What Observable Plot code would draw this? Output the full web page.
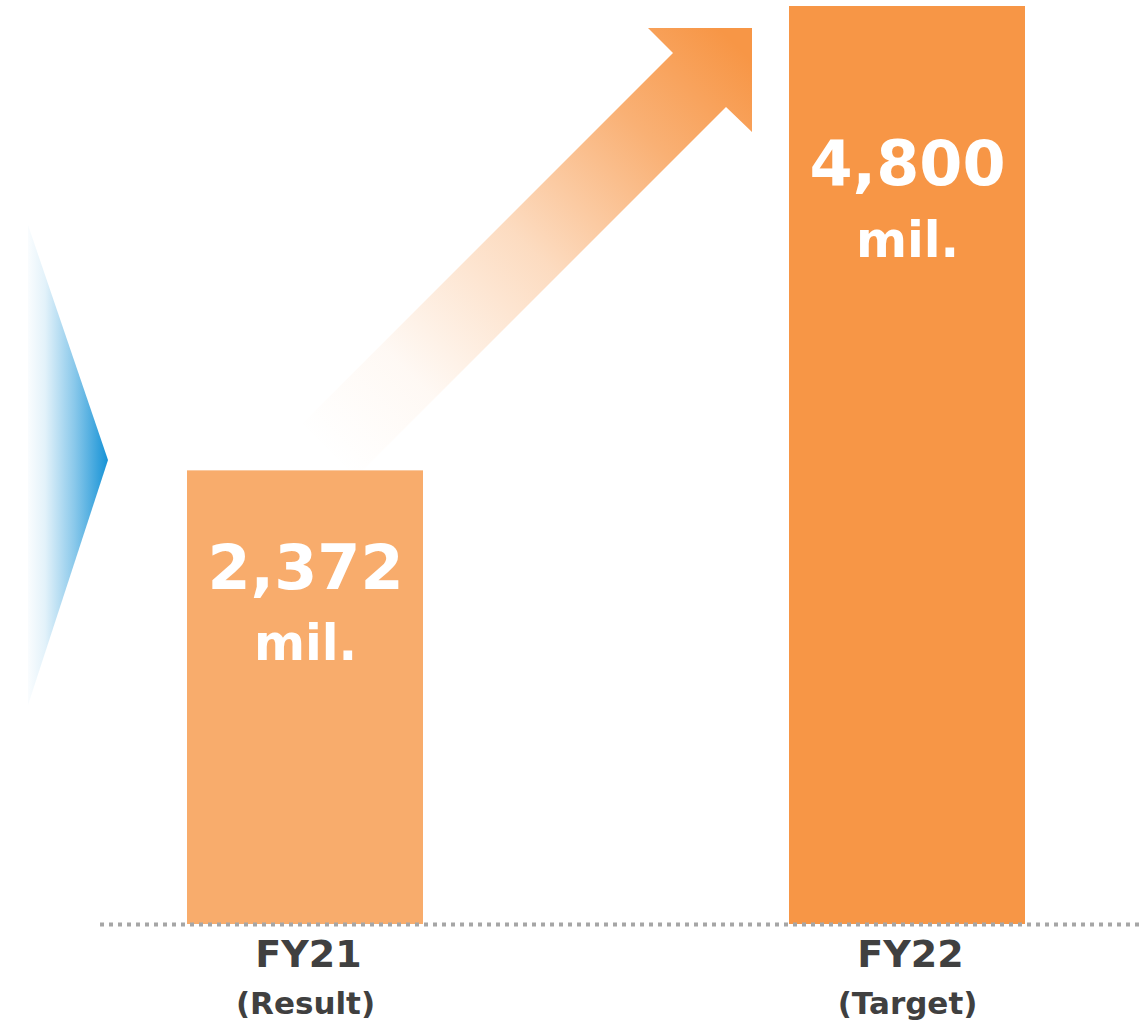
<!DOCTYPE html>
<html><head><meta charset="utf-8">
<script src="https://cdn.jsdelivr.net/npm/d3@7"></script>
<script src="https://cdn.jsdelivr.net/npm/@observablehq/plot@0.6"></script>
<style>html,body{margin:0;padding:0;background:#fff;} #chart svg{display:block}</style>
</head><body><div id="chart"></div>
<script>
const categories = ["FY21", "FY22"];
const subLabels = ["(Result)", "(Target)"];
const values = [2372, 4800];
const unitLabel = "mil.";

const data = categories.map((c, i) => ({
  category: c, sub: subLabels[i], value: values[i], label: d3.format(",")(values[i]), unit: unitLabel
}));

const FONT = "'DejaVu Sans', Verdana, sans-serif";

function decorations(index, scales, vals, dims) {
  const g = d3.create("svg:g");
  const defs = g.append("defs");
  const ag = defs.append("linearGradient").attr("id", "arrowGrad").attr("gradientUnits", "userSpaceOnUse")
    .attr("x1", 326).attr("y1", 453).attr("x2", 735).attr("y2", 44);
  [[0, 0], [0.2, 0.06], [0.5, 0.34], [0.78, 0.75], [1, 1]].forEach(([o, a]) =>
    ag.append("stop").attr("offset", o).attr("stop-color", "#F79646").attr("stop-opacity", a));
  const bg = defs.append("linearGradient").attr("id", "chevGrad").attr("gradientUnits", "userSpaceOnUse")
    .attr("x1", 24).attr("y1", 0).attr("x2", 108).attr("y2", 0);
  [[0, 0], [0.25, 0.12], [0.6, 0.5], [1, 1]].forEach(([o, a]) =>
    bg.append("stop").attr("offset", o).attr("stop-color", "#1592D6").attr("stop-opacity", a));
  g.append("path").attr("d", "M28,225L108,460L28,705Z").attr("fill", "url(#chevGrad)");
  g.append("path").attr("d", "M300,426L673,53L648,28L752,28L752,132L726,107L353,480Z").attr("fill", "url(#arrowGrad)");
  return g.node();
}

const numStyle = {fill: "white", fontFamily: FONT, fontWeight: "bold", fontSize: 62, lineAnchor: "middle"};
const unitStyle = {fill: "white", fontFamily: FONT, fontWeight: "bold", fontSize: 49, lineAnchor: "middle"};
const fy21 = data.filter(d => d.category === "FY21");
const fy22 = data.filter(d => d.category === "FY22");

const chart = Plot.plot({
  width: 1139,
  height: 1023,
  marginTop: 6,
  marginBottom: 99,
  marginLeft: 187,
  marginRight: 114,
  x: {domain: categories, paddingInner: 0.608, paddingOuter: 0, axis: null},
  y: {domain: [0, 4800], axis: null},
  color: {domain: categories, range: ["#F8AC6C", "#F79646"]},
  marks: [
    decorations,
    Plot.barY(data, {x: "category", y: "value", fill: "category"}),
    Plot.ruleY([0], {stroke: "#A6A6A6", strokeWidth: 4, strokeDasharray: "4,5", insetLeft: -87, insetRight: -114}),
    Plot.text(fy21, {x: "category", y: "value", text: "label", dy: 98, ...numStyle}),
    Plot.text(fy21, {x: "category", y: "value", text: "unit", dy: 173, ...unitStyle}),
    Plot.text(fy22, {x: "category", y: "value", text: "label", dy: 159, ...numStyle}),
    Plot.text(fy22, {x: "category", y: "value", text: "unit", dy: 235, ...unitStyle}),
    Plot.text(data, {x: "category", y: 0, text: "category", dy: 30, dx: 3, fill: "#404040", fontFamily: FONT, fontWeight: "bold", fontSize: 38, lineAnchor: "middle"}),
    Plot.text(data, {x: "category", y: 0, text: "sub", dy: 80, dx: 0, fill: "#404040", fontFamily: FONT, fontWeight: "bold", fontSize: 31, lineAnchor: "middle"})
  ]
});
document.getElementById("chart").appendChild(chart);
</script>
</body></html>
